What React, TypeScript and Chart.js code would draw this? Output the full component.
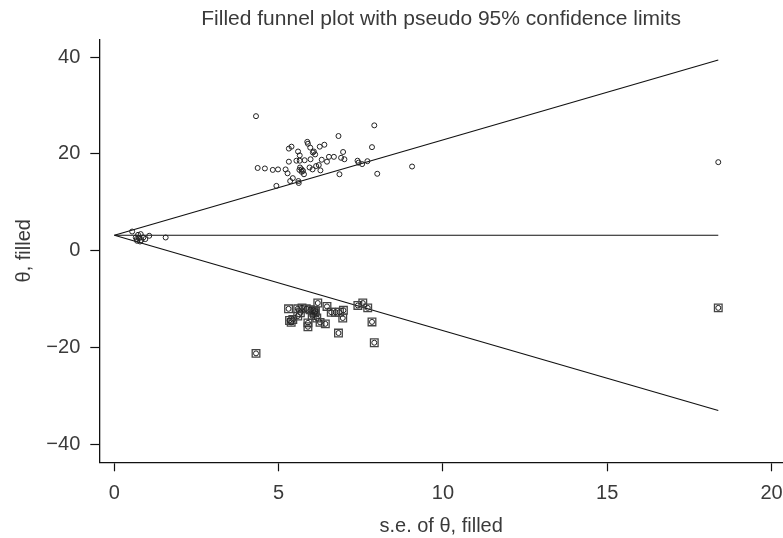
import { useEffect, useRef } from 'react';
import { Chart, registerables } from 'chart.js';

Chart.register(...registerables);

// Observed studies (s.e., theta)
const observedSe = [
  4.31, 7.91, 6.82, 7.84, 5.87, 5.89, 5.31, 5.39, 6.25, 6.39,
  5.59, 5.96, 6.04, 6.11, 6.07, 5.64, 6.96, 6.53, 6.68, 6.90,
  7.00, 5.31, 5.54, 5.64, 5.79, 5.97, 6.31, 6.47, 7.40, 7.43,
  7.54, 7.70, 4.36, 4.58, 4.82, 4.98, 5.21, 5.65, 5.70, 5.63,
  5.74, 5.70, 5.94, 6.03, 6.14, 6.22, 6.27, 5.27, 5.77, 6.85,
  8.00, 9.06, 5.43, 5.35, 5.60, 5.61, 4.93, 18.38,
  0.54, 0.72, 0.80, 1.06, 0.68, 0.75, 0.82, 0.88, 0.94, 0.65,
  0.69, 0.78, 1.56,
];
const observedTheta = [
  27.8, 25.9, 23.7, 21.4, 22.5, 22.1, 21.1, 21.5, 21.5, 21.9,
  20.5, 21.3, 20.3, 19.9, 20.5, 19.7, 20.4, 19.4, 19.4, 19.2,
  18.9, 18.4, 18.6, 18.6, 18.7, 18.9, 18.8, 18.4, 18.6, 18.2,
  17.9, 18.5, 17.1, 17.0, 16.7, 16.8, 16.8, 17.2, 16.8, 16.7,
  16.5, 16.3, 17.2, 16.8, 17.5, 17.7, 16.6, 16.0, 15.8, 15.8,
  15.9, 17.4, 15.0, 14.4, 14.4, 14.0, 13.4, 18.3,
  3.97, 3.29, 3.44, 3.09, 2.41, 2.61, 2.20, 2.74, 2.41, 2.74,
  2.06, 1.91, 2.74,
];

// Filled (imputed) studies (s.e., theta)
const filledSe = [
  5.30, 5.58, 5.71, 5.84, 5.96, 6.06, 6.19, 6.47, 5.66, 5.58,
  5.43, 5.33, 5.38, 5.89, 5.89, 6.02, 6.09, 6.16, 6.12, 6.26,
  6.42, 6.60, 6.73, 6.85, 6.97, 6.95, 7.41, 7.56, 7.71, 7.84,
  6.82, 7.91, 4.31, 18.38,
];
const filledTheta = [
  -12.0, -12.0, -11.8, -12.0, -12.2, -12.3, -10.8, -11.5, -12.8, -13.5,
  -14.2, -14.4, -14.8, -14.9, -15.7, -13.4, -12.8, -13.9, -12.5, -14.8,
  -15.1, -12.7, -12.7, -12.7, -12.3, -13.9, -11.3, -10.8, -11.8, -14.7,
  -17.0, -19.0, -21.2, -11.8,
];

// Funnel (pseudo 95% limits)
const funnelSe = [0, 18.38];
const centerTheta = [3.2, 3.2];
const upperTheta = [3.2, 39.4];
const lowerTheta = [3.2, -33.0];

// Axis ticks
const xTicks = [0, 5, 10, 15, 20];
const yTicks = [-40, -20, 0, 20, 40];

const FONT = 'Liberation Sans, Arial, sans-serif';
const TEXT = '#3a3a3a';

const pts = (xs: number[], ys: number[]) => xs.map((x, i) => ({ x, y: ys[i] }));

export default function App() {
  const ref = useRef<HTMLCanvasElement | null>(null);

  useEffect(() => {
    document.body.style.margin = '0';
    const canvas = ref.current;
    if (!canvas) return;

    const lineDs = (label: string, ys: number[]) => ({
      type: 'line' as const,
      label,
      data: pts(funnelSe, ys),
      borderColor: '#111111',
      borderWidth: 1.2,
      pointRadius: 0,
      fill: false,
      tension: 0,
      order: 3,
    });

    const chart = new Chart(canvas, {
      type: 'scatter',
      data: {
        datasets: [
          {
            label: 'filled circles',
            data: pts(filledSe, filledTheta),
            pointStyle: 'circle',
            pointRadius: 2.5,
            borderWidth: 1,
            borderColor: '#222222',
            backgroundColor: 'rgba(0,0,0,0)',
            order: 0,
          },
          {
            label: 'filled squares',
            data: pts(filledSe, filledTheta),
            pointStyle: 'rect',
            pointRadius: 5.4,
            borderWidth: 1.3,
            borderColor: '#444444',
            backgroundColor: 'rgba(0,0,0,0)',
            order: 1,
          },
          {
            label: 'observed',
            data: pts(observedSe, observedTheta),
            pointStyle: 'circle',
            pointRadius: 2.5,
            borderWidth: 1,
            borderColor: '#222222',
            backgroundColor: 'rgba(0,0,0,0)',
            order: 2,
          },
          lineDs('center', centerTheta) as any,
          lineDs('upper', upperTheta) as any,
          lineDs('lower', lowerTheta) as any,
        ],
      },
      options: {
        animation: false,
        responsive: false,
        events: [],
        layout: { autoPadding: false, padding: { top: 0, left: 0, right: 0, bottom: 0 } },
        plugins: {
          legend: { display: false },
          tooltip: { enabled: false },
          title: {
            display: true,
            fullSize: false,
            text: 'Filled funnel plot with pseudo 95% confidence limits',
            color: TEXT,
            font: { family: FONT, size: 21, weight: 'normal' },
            padding: { top: 6.5, bottom: 7.5 },
          },
        },
        scales: {
          x: {
            type: 'linear',
            min: -0.46,
            max: 20.35,
            afterBuildTicks: (s: any) => {
              s.ticks = xTicks.map((v) => ({ value: v }));
            },
            afterFit: (s: any) => {
              s.height = 75.7;
              s.paddingLeft = 0;
              s.paddingRight = 0;
            },
            ticks: {
              color: TEXT,
              font: { family: FONT, size: 20 },
              padding: 10.5,
              maxRotation: 0,
              autoSkip: false,
            },
            grid: {
              drawOnChartArea: false,
              drawTicks: true,
              tickLength: 9,
              tickColor: '#111111',
              tickWidth: 1.2,
            },
            border: { display: true, color: '#111111', width: 1.3 },
            title: {
              display: true,
              text: 's.e. of θ, filled',
              color: TEXT,
              font: { family: FONT, size: 20 },
              padding: { top: 0, bottom: 0 },
            },
          },
          y: {
            type: 'linear',
            min: -43.7,
            max: 43.7,
            afterBuildTicks: (s: any) => {
              s.ticks = yTicks.map((v) => ({ value: v }));
            },
            afterFit: (s: any) => {
              s.width = 99.3;
              s.paddingTop = 0;
              s.paddingBottom = 0;
            },
            ticks: {
              color: TEXT,
              font: { family: FONT, size: 20 },
              padding: 10,
              autoSkip: false,
              callback: (v: any) => (Number(v) < 0 ? '\u2212' + Math.abs(Number(v)) : String(v)),
            },
            grid: {
              drawOnChartArea: false,
              drawTicks: true,
              tickLength: 9,
              tickColor: '#111111',
              tickWidth: 1.2,
            },
            border: { display: true, color: '#111111', width: 1.3 },
            title: {
              display: true,
              text: 'θ, filled',
              color: TEXT,
              font: { family: FONT, size: 20 },
              padding: { top: 12, bottom: 12 },
            },
          },
        },
      },
    });

    return () => chart.destroy();
  }, []);

  return (
    <div style={{ width: 783, height: 538 }}>
      <canvas ref={ref} width={783} height={538} style={{ display: 'block' }} />
    </div>
  );
}
